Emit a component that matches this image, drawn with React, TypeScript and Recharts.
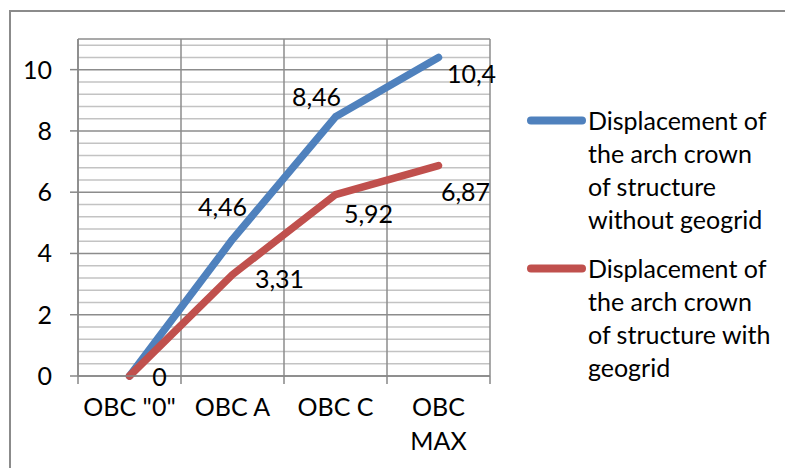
import React from "react";
import {
  LineChart,
  Line,
  XAxis,
  YAxis,
  CartesianGrid,
  Legend,
  LabelList,
} from "recharts";

// ─── Data ─────────────────────────────────────────────────

const categories = ['OBC "0"', "OBC A", "OBC C", "OBC MAX"];
const withoutGeogrid = [0, 4.46, 8.46, 10.4];
const withGeogrid = [0, 3.31, 5.92, 6.87];
const seriesNames = [
  "Displacement of\nthe arch crown\nof structure\nwithout geogrid",
  "Displacement of\nthe arch crown\nof structure with\ngeogrid",
];
const yTicks = [0, 2, 4, 6, 8, 10];
const yMinor = [
  0.4, 0.8, 1.2, 1.6, 2.4, 2.8, 3.2, 3.6, 4.4, 4.8, 5.2, 5.6, 6.4, 6.8, 7.2,
  7.6, 8.4, 8.8, 9.2, 9.6, 10.4, 10.8,
];
const xBounds = [0, 1, 2, 3, 4];

const data = categories.map((c, i) => ({
  pos: i + 0.5,
  category: c,
  without: withoutGeogrid[i],
  with: withGeogrid[i],
}));

// ─── Styling ──────────────────────────────────────────────

const FONT = "Lato, 'Liberation Sans', sans-serif";
const FS = 25;
const BLUE = "#4F81BD";
const RED = "#C0504D";
const AXIS = "#878787";

// label offsets (dx, dy) from each point, per series
const blueOffsets = [[30, 0], [-10, -33], [-19, -21], [33, 16]];
const redOffsets = [[30, 0], [47, 3], [33, 18], [27, 25]];

const formatValue = (v: number) => String(v).replace(".", ",");

// greedy word wrap, measured with a canvas
function wrapWords(text: string, maxWidth: number): string[] {
  const ctx = document.createElement("canvas").getContext("2d");
  if (!ctx) return [text];
  ctx.font = `${FS}px ${FONT}`;
  const lines: string[] = [];
  let cur = "";
  for (const w of text.split(" ")) {
    const next = cur ? cur + " " + w : w;
    if (cur && ctx.measureText(next).width > maxWidth) {
      lines.push(cur);
      cur = w;
    } else {
      cur = next;
    }
  }
  if (cur) lines.push(cur);
  return lines;
}

// `shared` = values of an earlier series; identical labels at the same
// point are drawn only once (Excel stacks them on top of each other)
function makeLabel(offsets: number[][], shared?: number[]) {
  return (props: any) => {
    const { x, y, value, index } = props;
    if (shared && shared[index] === value) return null;
    const [dx, dy] = offsets[index] ?? [0, 0];
    return (
      <text
        x={x + dx}
        y={y + dy}
        textAnchor="middle"
        dominantBaseline="central"
        fontSize={FS}
        fontFamily={FONT}
        fill="#000"
      >
        {formatValue(value)}
      </text>
    );
  };
}

function CategoryTick(props: any) {
  const { x, y, payload, width } = props;
  const idx = payload.value;
  if (idx >= categories.length) return null;
  const band = (width ?? 412) / categories.length;
  const lines = wrapWords(categories[idx], band - 6);
  return (
    <text
      x={x + band / 2}
      y={y + 30}
      textAnchor="middle"
      fontSize={FS}
      fontFamily={FONT}
      fill="#000"
    >
      {lines.map((l, i) => (
        <tspan key={i} x={x + band / 2} dy={i === 0 ? 0 : 34}>
          {l}
        </tspan>
      ))}
    </text>
  );
}

function renderLegend(props: any) {
  const { payload } = props;
  return (
    <div style={{ fontFamily: FONT, fontSize: FS, lineHeight: "33px", color: "#000" }}>
      {payload.map((entry: any, i: number) => (
        <div
          key={i}
          style={{ display: "flex", alignItems: "flex-start", marginBottom: 16 }}
        >
          <svg width={60} height={33} style={{ flex: "none" }}>
            <line
              x1={5}
              x2={56}
              y1={16.5}
              y2={16.5}
              stroke={entry.color}
              strokeWidth={8}
              strokeLinecap="round"
            />
          </svg>
          <div style={{ whiteSpace: "pre-line", marginLeft: 2 }}>{entry.value}</div>
        </div>
      ))}
    </div>
  );
}

// ─── Main Component ───────────────────────────────────────

export default function App() {
  return (
    <div
      style={{
        position: "fixed",
        left: 0,
        top: 0,
        width: 785,
        height: 468,
        overflow: "hidden",
        background: "#fff",
      }}
    >
      <div
        style={{
          position: "absolute",
          left: 9,
          top: 10,
          width: 800,
          height: 500,
          borderLeft: "2px solid #8b8b8b",
          borderTop: "2px solid #8b8b8b",
        }}
      />
      <LineChart
        width={785}
        height={468}
        data={data}
        margin={{ top: 39, right: 295, bottom: 32, left: 10 }}
      >
        <CartesianGrid
          horizontalValues={yMinor}
          vertical={false}
          stroke="#c3c3c3"
          strokeWidth={1.5}
        />
        <CartesianGrid stroke="#8c8c8c" strokeWidth={1.5} />
        <XAxis
          dataKey="pos"
          type="number"
          domain={[0, 4]}
          ticks={xBounds}
          interval={0}
          height={60}
          stroke={AXIS}
          strokeWidth={1.5}
          tickSize={8}
          tick={<CategoryTick />}
        />
        <YAxis
          type="number"
          domain={[0, 11]}
          ticks={yTicks}
          interval={0}
          width={68}
          stroke={AXIS}
          strokeWidth={1.5}
          tickSize={8}
          tickMargin={18}
          tick={{ fontSize: FS, fontFamily: FONT, fill: "#000" }}
        />
        <Legend
          layout="vertical"
          align="center"
          verticalAlign="middle"
          wrapperStyle={{ left: 526, top: 104, width: 259 }}
          content={renderLegend}
        />
        <Line
          type="linear"
          dataKey="without"
          name={seriesNames[0]}
          stroke={BLUE}
          strokeWidth={7.5}
          strokeLinecap="round"
          strokeLinejoin="round"
          dot={false}
          isAnimationActive={false}
        >
          <LabelList dataKey="without" content={makeLabel(blueOffsets)} />
        </Line>
        <Line
          type="linear"
          dataKey="with"
          name={seriesNames[1]}
          stroke={RED}
          strokeWidth={7.5}
          strokeLinecap="round"
          strokeLinejoin="round"
          dot={false}
          isAnimationActive={false}
        >
          <LabelList
            dataKey="with"
            content={makeLabel(redOffsets, withoutGeogrid)}
          />
        </Line>
      </LineChart>
    </div>
  );
}
